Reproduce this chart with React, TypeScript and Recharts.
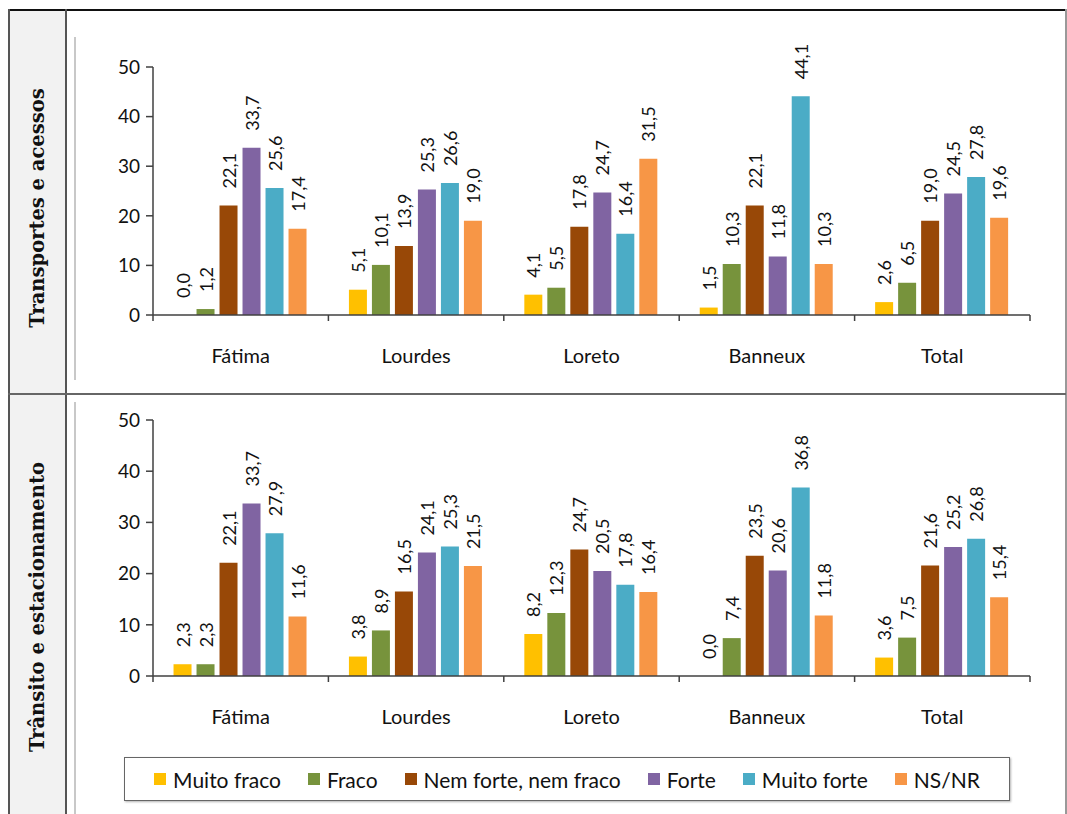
import React from 'react';
import { BarChart, Bar, XAxis, YAxis, LabelList, Legend } from 'recharts';

// Categories and series
const places = ['Fátima', 'Lourdes', 'Loreto', 'Banneux', 'Total'];
const yTicks = [0, 10, 20, 30, 40, 50];

const seriesNames = ['Muito fraco', 'Fraco', 'Nem forte, nem fraco', 'Forte', 'Muito forte', 'NS/NR'];
const seriesColors = ['#FFC000', '#77933C', '#984807', '#8064A2', '#4BACC6', '#F79646'];

// Transportes e acessos
const transMuitoFraco = [0.0, 5.1, 4.1, 1.5, 2.6];
const transFraco = [1.2, 10.1, 5.5, 10.3, 6.5];
const transNem = [22.1, 13.9, 17.8, 22.1, 19.0];
const transForte = [33.7, 25.3, 24.7, 11.8, 24.5];
const transMuitoForte = [25.6, 26.6, 16.4, 44.1, 27.8];
const transNsnr = [17.4, 19.0, 31.5, 10.3, 19.6];

// Trânsito e estacionamento
const estMuitoFraco = [2.3, 3.8, 8.2, 0.0, 3.6];
const estFraco = [2.3, 8.9, 12.3, 7.4, 7.5];
const estNem = [22.1, 16.5, 24.7, 23.5, 21.6];
const estForte = [33.7, 24.1, 20.5, 20.6, 25.2];
const estMuitoForte = [27.9, 25.3, 17.8, 36.8, 26.8];
const estNsnr = [11.6, 21.5, 16.4, 11.8, 15.4];

const keys = ['s0', 's1', 's2', 's3', 's4', 's5'];

function buildRows(series: number[][]) {
  return places.map((name, i) => {
    const row: Record<string, any> = { name };
    series.forEach((s, k) => { row[keys[k]] = s[i]; });
    return row;
  });
}

const transData = buildRows([transMuitoFraco, transFraco, transNem, transForte, transMuitoForte, transNsnr]);
const estData = buildRows([estMuitoFraco, estFraco, estNem, estForte, estMuitoForte, estNsnr]);

const FONT = 'Lato, "Open Sans", sans-serif';
const CHART_W = 980;
const PLOT_LEFT = 78;
const PLOT_RIGHT = 25;
const BAND = (CHART_W - PLOT_LEFT - PLOT_RIGHT) / places.length;

const ValueLabel = (props: any) => {
  const { x, y, width, value } = props;
  if (x == null || y == null) return null;
  const cx = x + width / 2;
  const ty = y - 17;
  return (
    <text
      x={cx}
      y={ty}
      transform={`rotate(-90, ${cx}, ${ty})`}
      textAnchor="start"
      dominantBaseline="central"
      fontFamily={FONT}
      fontSize={18}
      fill="#111"
    >
      {Number(value).toFixed(1).replace('.', ',')}
    </text>
  );
};

const CategoryTick = (props: any) => {
  const { x, y, payload, index } = props;
  const left = x - BAND / 2;
  const right = x + BAND / 2;
  return (
    <g>
      <line x1={left} y1={y} x2={left} y2={y + 6} stroke="#404040" strokeWidth={1.5} />
      {index === places.length - 1 && (
        <line x1={right} y1={y} x2={right} y2={y + 6} stroke="#404040" strokeWidth={1.5} />
      )}
      <text x={x} y={y + 40} textAnchor="middle" dominantBaseline="central" fontFamily={FONT} fontSize={20} fill="#111">
        {payload.value}
      </text>
    </g>
  );
};

const LegendBox = () => (
  <div
    style={{
      boxSizing: 'border-box',
      width: 886,
      height: 44,
      border: '1.5px solid #666',
      boxShadow: '1px 1px 2px rgba(0,0,0,0.3)',
      background: '#fff',
      display: 'flex',
      alignItems: 'center',
      justifyContent: 'center',
      gap: 27,
      fontFamily: FONT,
      fontSize: 21,
      color: '#111',
    }}
  >
    {seriesNames.map((n, i) => (
      <div key={n} style={{ display: 'flex', alignItems: 'center' }}>
        <span style={{ width: 12, height: 12, background: seriesColors[i], marginRight: 7, display: 'inline-block' }} />
        <span>{n}</span>
      </div>
    ))}
  </div>
);

function PanelChart({ data, height, margin, withLegend }: { data: any[]; height: number; margin: any; withLegend?: boolean }) {
  return (
    <BarChart
      width={CHART_W}
      height={height}
      data={data}
      margin={margin}
      barCategoryGap="11.7%"
      barGap={5}
    >
      <XAxis
        dataKey="name"
        height={40}
        tickSize={0}
        tickMargin={0}
        axisLine={{ stroke: '#404040', strokeWidth: 1.5 }}
        tickLine={false}
        tick={<CategoryTick />}
        interval={0}
      />
      <YAxis
        width={50}
        domain={[0, 50]}
        ticks={yTicks}
        interval={0}
        axisLine={{ stroke: '#404040', strokeWidth: 1.5 }}
        tickLine={{ stroke: '#404040', strokeWidth: 1.5 }}
        tickSize={7}
        tickMargin={6}
        tick={{ fontFamily: FONT, fontSize: 19, fill: '#111' }}
      />
      {withLegend && (
        <Legend
          layout="horizontal"
          verticalAlign="middle"
          align="center"
          wrapperStyle={{ position: 'absolute', top: 355, left: 49, width: 886, height: 44 }}
          content={<LegendBox />}
        />
      )}
      {keys.map((k, i) => (
        <Bar
          key={k}
          dataKey={k}
          name={seriesNames[i]}
          fill={seriesColors[i]}
          minPointSize={0.01}
          isAnimationActive={false}
        >
          <LabelList dataKey={k} content={<ValueLabel />} />
        </Bar>
      ))}
    </BarChart>
  );
}

const rowLabel: React.CSSProperties = {
  position: 'absolute',
  left: 37,
  transform: 'translate(-50%, -50%) rotate(-90deg)',
  whiteSpace: 'nowrap',
  fontFamily: '"DejaVu Serif", serif',
  fontWeight: 'bold',
  fontSize: 19.5,
  color: '#111',
};

export default function App() {
  return (
    <div style={{ position: 'absolute', left: 0, top: 0, width: 1067, height: 814, background: '#fff', overflow: 'hidden' }}>
      {/* left column */}
      <div style={{ position: 'absolute', left: 8, top: 9, width: 57, height: 805, background: '#f2f2f2' }} />
      {/* table lines */}
      <div style={{ position: 'absolute', left: 8, top: 9, width: 1058, height: 2, background: '#111' }} />
      <div style={{ position: 'absolute', left: 8, top: 9, width: 1.5, height: 805, background: '#555' }} />
      <div style={{ position: 'absolute', left: 65, top: 9, width: 1.5, height: 805, background: '#555' }} />
      <div style={{ position: 'absolute', left: 1065, top: 9, width: 1.5, height: 805, background: '#999' }} />
      <div style={{ position: 'absolute', left: 8, top: 393, width: 1058, height: 2, background: '#666' }} />
      {/* chart frame edges */}
      <div style={{ position: 'absolute', left: 74, top: 37, width: 2, height: 343, background: '#c8c8c8' }} />
      <div style={{ position: 'absolute', left: 74, top: 402, width: 2, height: 412, background: '#c8c8c8' }} />

      <div style={{ ...rowLabel, top: 208 }}>Transportes e acessos</div>
      <div style={{ ...rowLabel, top: 607 }}>Trânsito e estacionamento</div>

      <div style={{ position: 'absolute', left: 75, top: 37 }}>
        <PanelChart data={transData} height={343} margin={{ top: 30, right: PLOT_RIGHT, bottom: 25, left: PLOT_LEFT - 50 }} />
      </div>
      <div style={{ position: 'absolute', left: 75, top: 402 }}>
        <PanelChart data={estData} height={412} margin={{ top: 18, right: PLOT_RIGHT, bottom: 98, left: PLOT_LEFT - 50 }} withLegend />
      </div>
    </div>
  );
}
